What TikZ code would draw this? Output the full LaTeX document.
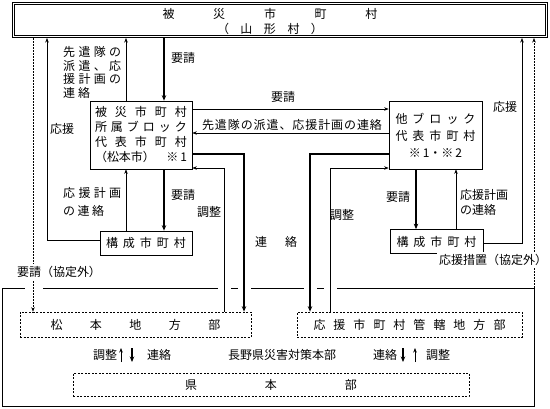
\documentclass[tikz,border=0pt]{standalone}
\usepackage{fontspec}
\setmainfont{Noto Sans CJK JP}
\usetikzlibrary{arrows.meta}
\newcommand{\jspread}[2]{\makebox[#1][s]{#2}}
\begin{document}
\begin{tikzpicture}[x=1pt,y=-1pt,
  every node/.style={font=\fontsize{12}{15}\selectfont, inner sep=0pt},
  boxst/.style={draw, line width=0.7pt, rectangle, inner sep=0pt},
  dboxst/.style={draw, line width=0.7pt, dash pattern=on 2pt off 1.5pt, rectangle, inner sep=0pt},
  tarr/.style={line width=0.6pt, -{Stealth[length=4.5pt,width=3.5pt]}},
  barr/.style={line width=1.6pt, -{Stealth[length=5.5pt,width=4.5pt]}},
  darr/.style={line width=0.6pt, dash pattern=on 1.5pt off 1.5pt, -{Stealth[length=4.5pt,width=3.5pt]}},
  wlbl/.style={fill=white, inner sep=2pt}
]
\useasboundingbox (0,0) rectangle (550,408);

% top box
\node[draw, double, double distance=1.6pt, line width=0.7pt, minimum width=533pt, minimum height=33pt, outer sep=1.5pt] (top) at (280,20) {};
\node (t1) at (270,14) {\jspread{215pt}{被\hfill 災\hfill 市\hfill 町\hfill 村}};
\node (t2) at (270,29) {\jspread{106pt}{（\hfill 山\hfill 形\hfill 村\hfill ）}};

% boxes
\node[boxst, minimum width=102pt, minimum height=68pt, align=center] (mb) at (141,135)
  {\jspread{92pt}{被\hfill 災\hfill 市\hfill 町\hfill 村}\\
   \jspread{92pt}{所\hfill 属\hfill ブ\hfill ロ\hfill ッ\hfill ク}\\
   \jspread{92pt}{代\hfill 表\hfill 市\hfill 町\hfill 村}\\
   \jspread{92pt}{（松本市）\hfill ※\,1}};
\node[boxst, minimum width=93pt, minimum height=68pt, align=center, font=\fontsize{12}{17}\selectfont] (ob) at (435.5,135)
  {\jspread{80pt}{他\hfill ブ\hfill ロ\hfill ッ\hfill ク}\\
   \jspread{80pt}{代\hfill 表\hfill 市\hfill 町\hfill 村}\\
   ※\,1・※\,2};
\node[boxst, minimum width=92pt, minimum height=24pt] (lk) at (146,243)
  {\jspread{80pt}{構\hfill 成\hfill 市\hfill 町\hfill 村}};
\node[boxst, minimum width=93pt, minimum height=24pt] (rk) at (436.5,241.5)
  {\jspread{80pt}{構\hfill 成\hfill 市\hfill 町\hfill 村}};

% bottom frame
\node[draw, line width=0.7pt, minimum width=532pt, minimum height=118pt] (frame) at (268,347) {};
\foreach \gx/\gw in {34/18, 224/13, 244/13, 310/13, 330/13}
  \draw[white, line width=2pt] (\gx-\gw/2, 288) -- (\gx+\gw/2, 288);

\node[dboxst, minimum width=231pt, minimum height=25pt] (mch) at (135.5,324.5)
  {\jspread{170pt}{松\hfill 本\hfill 地\hfill 方\hfill 部}};
\node[dboxst, minimum width=225pt, minimum height=25pt] (och) at (409.5,324.5)
  {\jspread{192pt}{応\hfill 援\hfill 市\hfill 町\hfill 村\hfill 管\hfill 轄\hfill 地\hfill 方\hfill 部}};
\node[dboxst, minimum width=396pt, minimum height=23pt] (ken) at (271,384.5)
  {\jspread{172pt}{県\hfill 本\hfill 部}};

% x / y references
\coordinate (xL1) at (33,0);
\coordinate (xL2) at (47,0);
\coordinate (xM1) at (126,0);
\coordinate (xM2) at (164,0);
\coordinate (xC1) at (224,0);
\coordinate (xC2) at (244,0);
\coordinate (xC3) at (310,0);
\coordinate (xC4) at (330,0);
\coordinate (xO1) at (416,0);
\coordinate (xO2) at (456,0);
\coordinate (xR1) at (522,0);
\coordinate (xR2) at (534,0);
\coordinate (y1) at (0,109);
\coordinate (y2) at (0,133);
\coordinate (y3) at (0,154);
\coordinate (y4) at (0,168);
\coordinate (yL) at (0,240);
\coordinate (yR) at (0,243);

% connectors
\draw[barr] (top.south -| xM2) -- (mb.north -| xM2);
\draw[tarr] (mb.north -| xM1) -- (top.south -| xM1);
\draw[tarr] (lk.west |- yL) -| (top.south -| xL2);
\draw[tarr] (rk.east |- yR) -| (top.south -| xR1);
\draw[darr] (top.south -| xL1) -- (mch.north -| xL1);
\draw[darr] (frame.north -| xR2) -- (top.south -| xR2);
\draw[tarr] (mb.east |- y1) -- (ob.west |- y1);
\draw[tarr] (ob.west |- y2) -- (mb.east |- y2);
\draw[barr] (mb.east |- y3) -| (mch.north -| xC2);
\draw[barr] (ob.west |- y3) -| (och.north -| xC3);
\draw[tarr] (mch.north -| xC1) |- (mb.east |- y4);
\draw[tarr] (och.north -| xC4) |- (ob.west |- y4);
\draw[barr] (mb.south -| xM2) -- (lk.north -| xM2);
\draw[tarr] (lk.north -| xM1) -- (mb.south -| xM1);
\draw[barr] (ob.south -| xO1) -- (rk.north -| xO1);
\draw[tarr] (rk.north -| xO2) -- (ob.south -| xO2);

% labels
\node (l1) at (183,58) {要請};
\node[align=left, anchor=west, font=\fontsize{12}{13.7}\selectfont] (l2) at (63,72.5)
  {\jspread{58pt}{先\hfill 遣\hfill 隊\hfill の}\\
   \jspread{58pt}{派\hfill 遣\hfill 、\hfill 応}\\
   \jspread{58pt}{援\hfill 計\hfill 画\hfill の}\\
   \jspread{27pt}{連\hfill 絡}};
\node (l3) at (62,129) {応援};
\node (l4) at (283,97) {要請};
\node (l5) at (292,125) {\jspread{180pt}{先\hfill 遣\hfill 隊\hfill の\hfill 派\hfill 遣\hfill 、\hfill 応\hfill 援\hfill 計\hfill 画\hfill の\hfill 連\hfill 絡}};
\node (l6) at (505,107) {応援};
\node (l7) at (209,212) {調整};
\node (l8) at (342,215) {調整};
\node (l9) at (276,242) {\jspread{42pt}{連\hfill 絡}};
\node[align=left, anchor=west, font=\fontsize{12}{18}\selectfont] (l10) at (63,202)
  {\jspread{58pt}{応\hfill 援\hfill 計\hfill 画}\\
   \jspread{41pt}{の\hfill 連\hfill 絡}};
\node (l11) at (183,195) {要請};
\node (l12) at (398,197) {要請};
\node[align=left, anchor=west, font=\fontsize{12}{15}\selectfont] (l13) at (460,202.5)
  {応援計画\\の連絡};
\node[wlbl] (l14) at (59,272) {要請（協定外）};
\node[wlbl] (l15) at (493,260) {応援措置（協定外）};

% middle row
\node (m1) at (282,355) {長野県災害対策本部};
\node (m2) at (105,355) {調整};
\node (m3) at (159,355) {連絡};
\node (m4) at (385,355) {連絡};
\node (m5) at (438,355) {調整};
\coordinate (a1s) at (121,362);
\coordinate (a1e) at (121,348);
\coordinate (a2s) at (132,348);
\coordinate (a2e) at (132,362);
\coordinate (a3s) at (403,348);
\coordinate (a3e) at (403,362);
\coordinate (a4s) at (415,362);
\coordinate (a4e) at (415,348);
\draw[tarr] (a1s) -- (a1e);
\draw[barr] (a2s) -- (a2e);
\draw[barr] (a3s) -- (a3e);
\draw[tarr] (a4s) -- (a4e);
\end{tikzpicture}
\end{document}
